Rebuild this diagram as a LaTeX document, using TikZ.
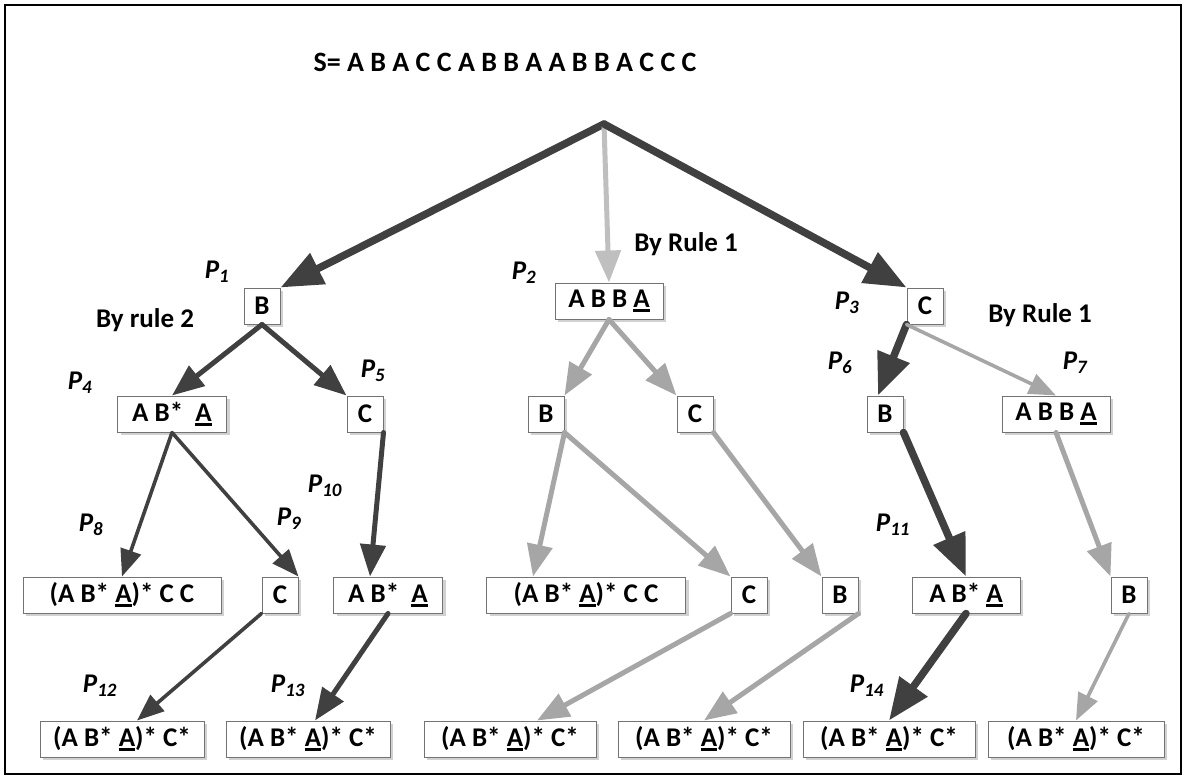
\documentclass[tikz,border=0pt]{standalone}
\usepackage{fontspec}
\setmainfont{Carlito}
\usetikzlibrary{arrows.meta,shadows}

\definecolor{arrdark}{HTML}{404040}
\definecolor{arrgray}{HTML}{A6A6A6}
\definecolor{arrlight}{HTML}{BFBFBF}

% thick underline under a letter
\newcommand{\undl}[1]{\setbox0\hbox{#1}\rlap{\rule[-4pt]{\wd0}{2.6pt}}#1}
% path label P_n
\newcommand{\plab}[1]{\textit{P\textsubscript{#1}}}

\tikzset{
  box/.style={draw=black!55, line width=1pt, fill=white, minimum width=36pt,
    minimum height=36pt, inner xsep=10pt, inner ysep=0pt,
    drop shadow={shadow xshift=3pt, shadow yshift=-3pt, fill=black!18, opacity=1}},
  fat/.style={line width=7.5pt, line cap=round, -{Triangle[length=42pt,width=33pt]}},
  mid/.style={line width=5pt, line cap=round, -{Triangle[length=32pt,width=25pt]}},
  slim/.style={line width=3.6pt, line cap=round, -{Triangle[length=27pt,width=21pt]}}
}

\begin{document}
\begin{tikzpicture}[x=1pt,y=-1pt,font=\bfseries\fontsize{27}{31}\selectfont]
  \useasboundingbox (0,0) rectangle (1185,778);
  \draw[line width=2.4pt] (5,5) rectangle (1181,774);

  \node (title) at (505,62) {\fontsize{28}{32}\selectfont S= A B A C C A B B A A B B A C C C};
  \coordinate (root) at (604,124);

  % first level
  \node[box] (b1) at (262,306) {B};
  \node[box,minimum width=108pt] (abba1) at (609,301) {A B B \undl{A}};
  \node[box] (c1) at (925,306) {C};

  % second level
  \node[box,minimum width=109pt] (aba1) at (172,414) {A B*~ \undl{A}};
  \node[box] (c2) at (365,414) {C};
  \node[box] (b2) at (546,414) {B};
  \node[box] (c3) at (695,414) {C};
  \node[box] (b3) at (885,414) {B};
  \node[box,minimum width=108pt] (abba2) at (1056,414) {A B B \undl{A}};

  % third level
  \node[box,minimum width=198pt] (cc1) at (122,595) {(A B* \undl{A})* C C};
  \node[box] (c4) at (280,595) {C};
  \node[box,minimum width=109pt] (aba2) at (388,595) {A B*~ \undl{A}};
  \node[box,minimum width=199pt] (cc2) at (586,595) {(A B* \undl{A})* C C};
  \node[box] (c5) at (749,595) {C};
  \node[box] (b4) at (840,595) {B};
  \node[box,minimum width=108pt] (aba3) at (966,595) {A B* \undl{A}};
  \node[box] (b5) at (1129,595) {B};

  % leaves
  \node[box,minimum width=164pt] (s1) at (122,739) {(A B* \undl{A})* C*};
  \node[box,minimum width=164pt] (s2) at (308,739) {(A B* \undl{A})* C*};
  \node[box,minimum width=172pt] (s3) at (510,739) {(A B* \undl{A})* C*};
  \node[box,minimum width=172pt] (s4) at (704,739) {(A B* \undl{A})* C*};
  \node[box,minimum width=172pt] (s5) at (889,739) {(A B* \undl{A})* C*};
  \node[box,minimum width=176pt] (s6) at (1076,739) {(A B* \undl{A})* C*};

  % labels
  \node (p1) at (217,272) {\plab{1}};
  \node (p2) at (524,273) {\plab{2}};
  \node (p3) at (847,303) {\plab{3}};
  \node (p4) at (80,383) {\plab{4}};
  \node (p5) at (373,371) {\plab{5}};
  \node (p6) at (840,363) {\plab{6}};
  \node (p7) at (1075,363) {\plab{7}};
  \node (p8) at (91,525) {\plab{8}};
  \node (p9) at (289,519) {\plab{9}};
  \node (p10) at (325,486) {\plab{10}};
  \node (p11) at (893,525) {\plab{11}};
  \node (p12) at (100,686) {\plab{12}};
  \node (p13) at (288,686) {\plab{13}};
  \node (p14) at (867,686) {\plab{14}};
  \node (rule2) at (145,320) {By rule 2};
  \node (rule1a) at (686,244) {By Rule 1};
  \node (rule1b) at (1040,315) {By Rule 1};

  % arrows
  \draw[fat,arrdark] (root) -- (b1.north east);
  \draw[mid,arrlight] (root) -- (abba1.north);
  \draw[fat,arrdark] (root) -- (c1.north west);

  \draw[mid,arrdark] (b1.south) -- (aba1.north);
  \draw[mid,arrdark] (b1.south) -- (c2.north west);
  \draw[mid,arrgray] (abba1.south) -- (b2.north east);
  \draw[mid,arrgray] (abba1.south) -- (c3.north west);
  \draw[fat,arrdark] (c1.south west) -- ([xshift=-7pt]b3.north);
  \draw[slim,arrgray] (c1.south west) -- (abba2.north);

  \draw[slim,arrdark] (aba1.south) -- (cc1.north);
  \draw[slim,arrdark] (aba1.south) -- (c4.north east);
  \draw[mid,arrdark] (c2.south east) -- ([xshift=-18pt]aba2.north);
  \draw[mid,arrgray] (b2.south east) -- ([xshift=-53pt]cc2.north);
  \draw[mid,arrgray] (b2.south east) -- (c5.north west);
  \draw[mid,arrgray] (c3.south east) -- (b4.north west);
  \draw[fat,arrdark] (b3.south east) -- (aba3.north);
  \draw[mid,arrgray] (abba2.south) -- (b5.north west);

  \draw[slim,arrdark] (c4.south west) -- ([xshift=15pt]s1.north);
  \draw[mid,arrdark] (aba2.south) -- ([xshift=7pt]s2.north);
  \draw[mid,arrgray] (c5.south west) -- ([xshift=27pt]s3.north);
  \draw[mid,arrgray] (b4.south east) -- (s4.north);
  \draw[fat,arrdark] (aba3.south) -- (s5.north);
  \draw[slim,arrgray] (b5.south) -- (s6.north);
\end{tikzpicture}
\end{document}
